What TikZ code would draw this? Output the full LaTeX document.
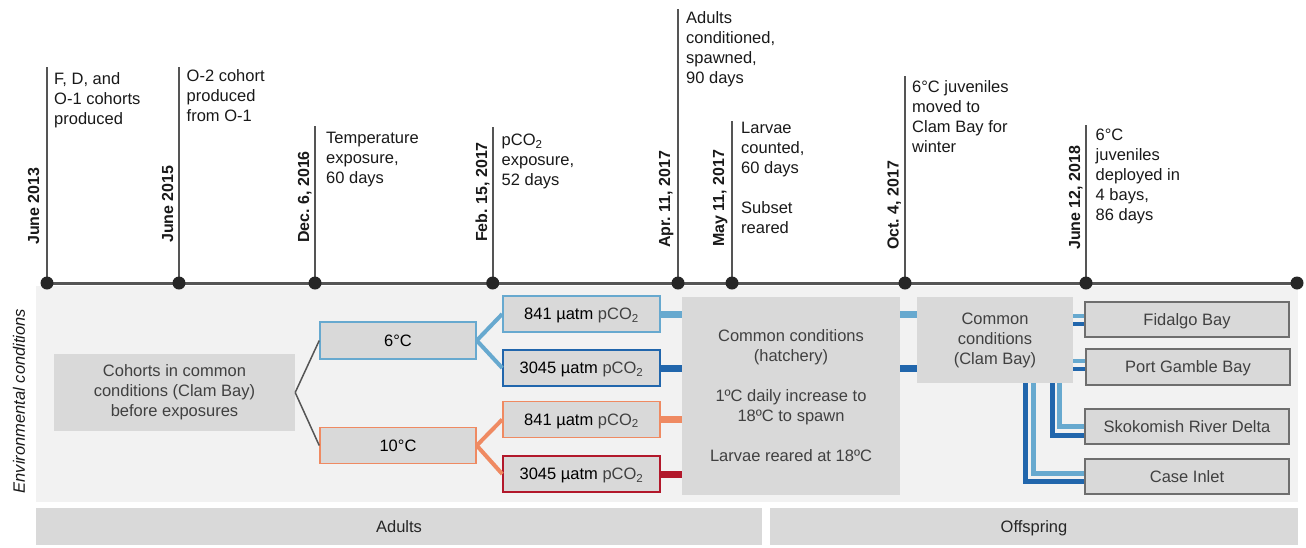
\documentclass[tikz,border=0pt]{standalone}
\usepackage{fontspec}
\setmainfont{Liberation Sans}
\frenchspacing
\definecolor{bggray}{HTML}{F2F2F2}
\definecolor{boxgray}{HTML}{D9D9D9}
\definecolor{txtgray}{HTML}{404040}
\definecolor{lblue}{HTML}{67A9CF}
\definecolor{dblue}{HTML}{2166AC}
\definecolor{lorange}{HTML}{EF8A62}
\definecolor{dred}{HTML}{B2182B}
\definecolor{tlgray}{HTML}{555555}
\definecolor{dotc}{HTML}{262626}
\definecolor{baybord}{HTML}{6E6E6E}
\newcommand\myfs{\fontsize{16.5}{20}\selectfont}
\begin{document}
\begin{tikzpicture}[x=1pt,y=-1pt,
 dot/.style={circle,fill=dotc,inner sep=0,minimum size=13pt},
 vline/.style={draw=tlgray,line width=1.8pt},
 tline/.style={draw=tlgray,line width=3pt},
 datelbl/.style={rotate=90,anchor=base west,inner sep=0,font=\fontsize{16}{20}\selectfont\bfseries,text=black!90},
 evtext/.style={anchor=north west,inner sep=0,align=left,font=\myfs,text=black!90},
 gbox/.style={fill=boxgray,inner sep=0,align=center,font=\myfs,text=txtgray},
 onel/.style={text height=12pt,text depth=1pt},
 cbox/.style={gbox,onel,draw=#1,line width=1.5pt,text=black,minimum width=157pt,minimum height=36pt},
 baybox/.style={gbox,onel,draw=baybord,line width=1.5pt,minimum width=204pt,minimum height=35pt},
 grayln/.style={draw=tlgray,line width=1.5pt},
 brln/.style={draw=#1,line width=4pt},
 thk/.style={draw=#1,line width=7pt},
 bayln/.style={draw=#1,line width=3.5pt},
 lln/.style={draw=#1,line width=5pt},
]
\useasboundingbox (0,0) rectangle (1306,547);
% background panel and bottom bars
\fill[bggray] (36,286) rectangle (1298,502);
\node[gbox,onel,minimum width=726pt,minimum height=37pt,text=black!85] (adults) at (399,526.5) {Adults};
\node[gbox,onel,minimum width=528pt,minimum height=37pt,text=black!85] (offs) at (1034,526.5) {Offspring};
\node[rotate=90,font=\myfs\itshape,text=black!90] (envc) at (19,401) {Environmental conditions};

% timeline
\coordinate (p1) at (47,283);
\coordinate (p2) at (179,283);
\coordinate (p3) at (315,283);
\coordinate (p4) at (492.7,283);
\coordinate (p5) at (678,283);
\coordinate (p6) at (732,283);
\coordinate (p7) at (905,283);
\coordinate (p8) at (1086,283);
\coordinate (p9) at (1297,283);
\coordinate (v1) at (47,67);
\coordinate (v2) at (179,67);
\coordinate (v3) at (315,126);
\coordinate (v4) at (492.7,127);
\coordinate (v5) at (678,9);
\coordinate (v6) at (732,121);
\coordinate (v7) at (905,76);
\coordinate (v8) at (1086,125);
\foreach \i in {1,...,8} {\draw[vline] (p\i) -- (v\i);}
\draw[tline] (p1) -- (p9);
\foreach \i in {1,...,9} {\node[dot] (d\i) at (p\i) {};}

% date labels
\node[datelbl] (l1) at (39,245) {June 2013};
\node[datelbl] (l2) at (173,243) {June 2015};
\node[datelbl] (l3) at (309,243) {Dec. 6, 2016};
\node[datelbl] (l4) at (487,242) {Feb. 15, 2017};
\node[datelbl] (l5) at (670,248) {Apr. 11, 2017};
\node[datelbl] (l6) at (724,247) {May 11, 2017};
\node[datelbl] (l7) at (898.5,250) {Oct. 4, 2017};
\node[datelbl] (l8) at (1080,250) {June 12, 2018};

% event texts
\node[evtext] (e1) at (54,72) {F, D, and\\O-1 cohorts\\produced};
\node[evtext] (e2) at (186.5,69) {O-2 cohort\\produced\\from O-1};
\node[evtext] (e3) at (326,132) {Temperature\\exposure,\\60 days};
\node[evtext] (e4) at (501.5,134) {pCO\textsubscript{2}\\exposure,\\52 days};
\node[evtext] (e5) at (686,11.5) {Adults\\conditioned,\\spawned,\\90 days};
\node[evtext] (e6) at (741,121.5) {Larvae\\counted,\\60 days\\[20pt]Subset\\reared};
\node[evtext] (e7) at (912,80) {6°C juveniles\\moved to\\Clam Bay for\\winter};
\node[evtext] (e8) at (1095.5,129) {6°C\\juveniles\\deployed in\\4 bays,\\86 days};

% boxes
\node[gbox,minimum width=241pt,minimum height=77pt] (coh) at (174.5,392.5) {Cohorts in common\\conditions (Clam Bay)\\before exposures};
\node[cbox=lblue,minimum width=156pt,minimum height=37pt] (t6) at (398,340.5) {6°C};
\node[cbox=lorange,minimum width=156pt,minimum height=36pt] (t10) at (398,445.5) {10°C};
\node[cbox=lblue] (b841) at (581.5,314) {841 µatm {\color{txtgray}pCO\textsubscript{2}}};
\node[cbox=dblue] (b3045) at (581.5,368) {3045 µatm {\color{txtgray}pCO\textsubscript{2}}};
\node[cbox=lorange] (o841) at (581.5,419.5) {841 µatm {\color{txtgray}pCO\textsubscript{2}}};
\node[cbox=dred] (r3045) at (581.5,474) {3045 µatm {\color{txtgray}pCO\textsubscript{2}}};
\node[gbox,minimum width=218pt,minimum height=198pt] (hat) at (791,396) {Common conditions\\(hatchery)\\[20pt]1ºC daily increase to\\18ºC to spawn\\[20pt]Larvae reared at 18ºC};
\node[gbox,minimum width=156pt,minimum height=86pt] (clam) at (995,340) {Common\\conditions\\(Clam Bay)};
\node[baybox] (fid) at (1187,319.5) {Fidalgo Bay};
\node[baybox,minimum height=36pt] (pgb) at (1188,367) {Port Gamble Bay};
\node[baybox] (sko) at (1187,426.5) {Skokomish River Delta};
\node[baybox] (cas) at (1187,476.5) {Case Inlet};

% connectors
\draw[grayln] (coh.east) -- (t6.west);
\draw[grayln] (coh.east) -- (t10.west);
\draw[brln=lblue] (t6.east) -- (b841.west);
\draw[brln=lblue] (t6.east) -- (b3045.west);
\draw[brln=lorange] (t10.east) -- (o841.west);
\draw[brln=lorange] (t10.east) -- (r3045.west);
\draw[thk=lblue] (b841.east) -- (b841.east -| hat.west);
\draw[thk=dblue] (b3045.east) -- (b3045.east -| hat.west);
\draw[thk=lorange] (o841.east) -- (o841.east -| hat.west);
\draw[thk=dred] (r3045.east) -- (r3045.east -| hat.west);
\draw[thk=lblue] (b841.east -| hat.east) -- (b841.east -| clam.west);
\draw[thk=dblue] (b3045.east -| hat.east) -- (b3045.east -| clam.west);
\draw[bayln=lblue] ([yshift=3.5pt]fid.west -| clam.east) -- ([yshift=3.5pt]fid.west);
\draw[bayln=dblue] ([yshift=-4.5pt]fid.west -| clam.east) -- ([yshift=-4.5pt]fid.west);
\draw[bayln=lblue] ([yshift=6pt]pgb.west -| clam.east) -- ([yshift=6pt]pgb.west);
\draw[bayln=dblue] ([yshift=-2pt]pgb.west -| clam.east) -- ([yshift=-2pt]pgb.west);
\draw[lln=dblue] ([xshift=57pt]clam.south) |- ([yshift=-8.5pt]sko.west);
\draw[lln=lblue] ([xshift=64pt]clam.south) |- ([yshift=0pt]sko.west);
\draw[lln=dblue] ([xshift=30pt]clam.south) |- ([yshift=-4.5pt]cas.west);
\draw[lln=lblue] ([xshift=38pt]clam.south) |- ([yshift=3.5pt]cas.west);
\end{tikzpicture}
\end{document}
